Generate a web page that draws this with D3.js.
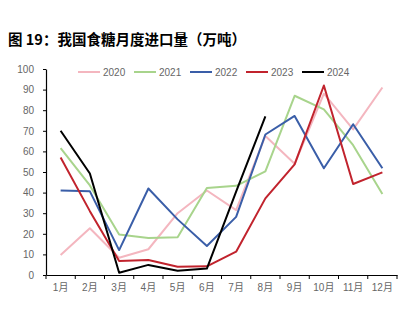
<!DOCTYPE html>
<html>
<head>
<meta charset="utf-8">
<script src="https://cdn.jsdelivr.net/npm/d3@7"></script>
<style>
  html, body { margin: 0; padding: 0; background: #fff; }
  svg { display: block; }
</style>
</head>
<body>
<svg id="chart" width="412" height="325"></svg>
<script>
const months = ["1月","2月","3月","4月","5月","6月","7月","8月","9月","10月","11月","12月"];
const yTicks = [0,10,20,30,40,50,60,70,80,90,100];
const seriesNames = ["2020","2021","2022","2023","2024"];
const seriesColors = ["#F4B6BF","#A8D48C","#3A5EA8","#C1232D","#000000"];
const v2020 = [9.7, 22.7, 8.4, 12.5, 30, 41, 31.5, 67.5, 54, 88, 70.7, 91];
const v2021 = [61.6, 43.5, 19.7, 18, 18.3, 42.2, 43.3, 50.3, 87, 80.4, 63, 39.3];
const v2022 = [41, 40.6, 12.1, 42, 27, 14.1, 28.2, 68.2, 77.2, 51.8, 73.2, 51.8];
const v2023 = [57, 31, 6.8, 7.3, 4, 4.2, 11.3, 37.2, 53.7, 92, 44.2, 49.8];
const v2024 = [70, 49.3, 1.1, 4.9, 2.1, 3.1, 40.5, 77];
const allValues = [v2020, v2021, v2022, v2023, v2024];

const svg = d3.select("#chart");
const labelColor = "#666666";
const tickFont = "'Liberation Sans', Arial, 'Noto Sans CJK SC', sans-serif";

// Title
svg.append("text")
  .attr("x", 8).attr("y", 45)
  .attr("font-family", "'Noto Sans CJK SC', sans-serif")
  .attr("font-weight", "bold")
  .attr("font-size", 14.5)
  .attr("fill", "#000")
  .text("图 19：我国食糖月度进口量（万吨）");

const x = d3.scaleBand().domain(months).range([46, 397]).padding(0);
const y = d3.scaleLinear().domain([0, 100]).range([275, 69]);

// Y axis
const yAxis = svg.append("g")
  .attr("transform", "translate(46,0)")
  .call(d3.axisLeft(y).tickValues(yTicks).tickSize(3).tickPadding(9).tickSizeOuter(0));
yAxis.select(".domain").attr("stroke", "#000").attr("stroke-width", 1.2);
yAxis.selectAll(".tick line").attr("stroke", "#000");
yAxis.selectAll("text").attr("fill", labelColor).attr("font-size", 10).attr("font-family", tickFont);

// X axis
const xAxis = svg.append("g")
  .attr("transform", "translate(0,275)")
  .call(d3.axisBottom(x).tickSize(0).tickPadding(9).tickSizeOuter(0));
xAxis.select(".domain").attr("stroke", "#000").attr("stroke-width", 1.2);
xAxis.selectAll("text").attr("fill", labelColor).attr("font-size", 10).attr("font-family", tickFont);
// boundary ticks
const bounds = months.map(m => x(m)).concat([x(months[months.length-1]) + x.bandwidth()]);
xAxis.selectAll("line.bt").data(bounds).enter().append("line")
  .attr("class", "bt")
  .attr("x1", d => d).attr("x2", d => d)
  .attr("y1", 0).attr("y2", 4)
  .attr("stroke", "#000").attr("stroke-width", 1);

// Lines
const line = d3.line()
  .x(d => x(d.m) + x.bandwidth() / 2)
  .y(d => y(d.v));

seriesNames.forEach((name, i) => {
  const data = allValues[i].map((v, j) => ({ m: months[j], v: v }));
  svg.append("path")
    .datum(data)
    .attr("fill", "none")
    .attr("stroke", seriesColors[i])
    .attr("stroke-width", 2)
    .attr("stroke-linejoin", "round")
    .attr("d", line);
});

// Legend
const legendX = [78, 134, 190, 246, 302];
seriesNames.forEach((name, i) => {
  const g = svg.append("g").attr("transform", `translate(${legendX[i]},72)`);
  g.append("line").attr("x1", 0).attr("x2", 22).attr("y1", 0).attr("y2", 0)
    .attr("stroke", seriesColors[i]).attr("stroke-width", 2);
  g.append("text").attr("x", 25).attr("y", 3.5)
    .attr("fill", labelColor).attr("font-size", 10).attr("font-family", tickFont)
    .text(name);
});
</script>
</body>
</html>
